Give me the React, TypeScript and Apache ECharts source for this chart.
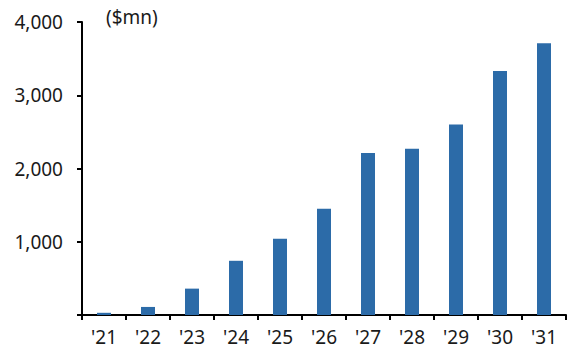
import React, { useEffect, useRef } from "react";
import * as echarts from "echarts";

const years = ["'21", "'22", "'23", "'24", "'25", "'26", "'27", "'28", "'29", "'30", "'31"];
const revenue = [30, 110, 360, 740, 1040, 1450, 2210, 2270, 2600, 3330, 3710];
const yTicks = { min: 0, max: 4000, interval: 1000 };
const unitLabel = "($mn)";

const FONT = "'Noto Sans', sans-serif";
const TEXT = "#1a1a1a";

export default function App() {
  const ref = useRef<HTMLDivElement>(null);

  useEffect(() => {
    if (!ref.current) return;
    const chart = echarts.init(ref.current, undefined, { renderer: "svg" });
    chart.setOption({
      animation: false,
      grid: { left: 82, right: 6, top: 22, bottom: 36 },
      graphic: [
        {
          type: "text",
          left: 106,
          top: 7,
          style: { text: unitLabel, font: `19px ${FONT}`, fill: TEXT },
        },
      ],
      xAxis: {
        type: "category",
        data: years,
        axisLine: { lineStyle: { color: "#000", width: 2 } },
        axisTick: { show: true, length: 5, lineStyle: { color: "#000", width: 2 } },
        axisLabel: { color: TEXT, fontFamily: FONT, fontSize: 19, margin: 12 },
      },
      yAxis: {
        type: "value",
        min: yTicks.min,
        max: yTicks.max,
        interval: yTicks.interval,
        splitLine: { show: false },
        axisLine: { show: true, lineStyle: { color: "#000", width: 2 } },
        axisTick: { show: true, length: 5, lineStyle: { color: "#000", width: 2 } },
        axisLabel: {
          color: TEXT,
          fontFamily: FONT,
          fontSize: 19,
          margin: 19,
          formatter: (v: number) => (v === 0 ? "" : v.toLocaleString("en-US")),
        },
      },
      series: [
        {
          type: "bar",
          data: revenue,
          barWidth: 14,
          itemStyle: { color: "#2C6BA8" },
        },
      ],
    });
    return () => chart.dispose();
  }, []);

  return <div ref={ref} style={{ width: 572, height: 351, position: "absolute", left: 0, top: 0 }} />;
}
